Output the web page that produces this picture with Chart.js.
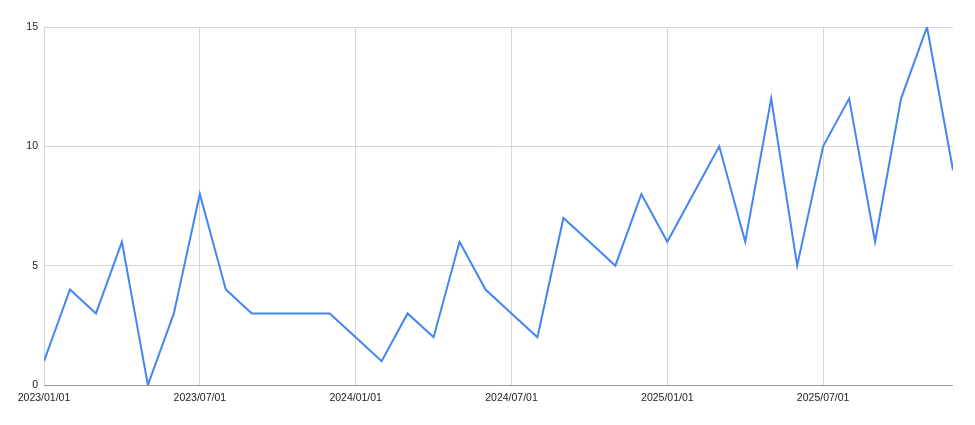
<!DOCTYPE html>
<html>
<head>
<meta charset="utf-8">
<script src="https://cdn.jsdelivr.net/npm/chart.js@4/dist/chart.umd.min.js"></script>
<style>
  html, body { margin: 0; padding: 0; background: #fff; }
  #wrap { width: 975px; height: 425px; }
</style>
</head>
<body>
<div id="wrap"><canvas id="myChart"></canvas></div>
<script>
// one value per month, 2023/01 .. 2025/12
const months = [
  '2023/01/01','2023/02/01','2023/03/01','2023/04/01','2023/05/01','2023/06/01',
  '2023/07/01','2023/08/01','2023/09/01','2023/10/01','2023/11/01','2023/12/01',
  '2024/01/01','2024/02/01','2024/03/01','2024/04/01','2024/05/01','2024/06/01',
  '2024/07/01','2024/08/01','2024/09/01','2024/10/01','2024/11/01','2024/12/01',
  '2025/01/01','2025/02/01','2025/03/01','2025/04/01','2025/05/01','2025/06/01',
  '2025/07/01','2025/08/01','2025/09/01','2025/10/01','2025/11/01','2025/12/01'
];
const valores = [
  1, 4, 3, 6, 0, 3,
  8, 4, 3, 3, 3, 3,
  2, 1, 3, 2, 6, 4,
  3, 2, 7, 6, 5, 8,
  6, 8, 10, 6, 12, 5,
  10, 12, 6, 12, 15, 9
];
const yTicks = [0, 5, 10, 15];

const ctx = document.getElementById('myChart');
new Chart(ctx, {
  type: 'line',
  data: {
    datasets: [{
      data: valores.map((v, i) => ({ x: i, y: v })),
      borderColor: '#4285f4',
      borderWidth: 2,
      fill: false,
      tension: 0,
      pointRadius: 0,
      pointHoverRadius: 0
    }]
  },
  options: {
    responsive: true,
    maintainAspectRatio: false,
    animation: false,
    layout: { padding: { top: 27, right: 22, bottom: 0, left: 0 } },
    plugins: { legend: { display: false }, tooltip: { enabled: false } },
    scales: {
      x: {
        type: 'linear',
        min: 0,
        max: months.length - 1,
        afterBuildTicks: axis => {
          axis.ticks = [];
          for (let i = 0; i < months.length; i += 6) axis.ticks.push({ value: i });
        },
        afterFit: axis => { axis.height = 40; },
        ticks: {
          autoSkip: false,
          maxRotation: 0,
          padding: 7,
          color: '#222',
          font: { family: 'Liberation Sans, Arial', size: 10.5 },
          callback: v => months[v]
        },
        grid: { color: '#d6d6d6', drawTicks: false },
        border: { display: false }
      },
      y: {
        min: 0,
        max: 15,
        afterBuildTicks: axis => { axis.ticks = yTicks.map(v => ({ value: v })); },
        afterFit: axis => { axis.width = 44; },
        ticks: {
          padding: 6,
          color: '#222',
          font: { family: 'Liberation Sans, Arial', size: 10.5 }
        },
        grid: {
          drawTicks: false,
          color: c => c.tick && c.tick.value === 0 ? '#999' : '#d6d6d6'
        },
        border: { display: false }
      }
    }
  }
});
</script>
</body>
</html>
